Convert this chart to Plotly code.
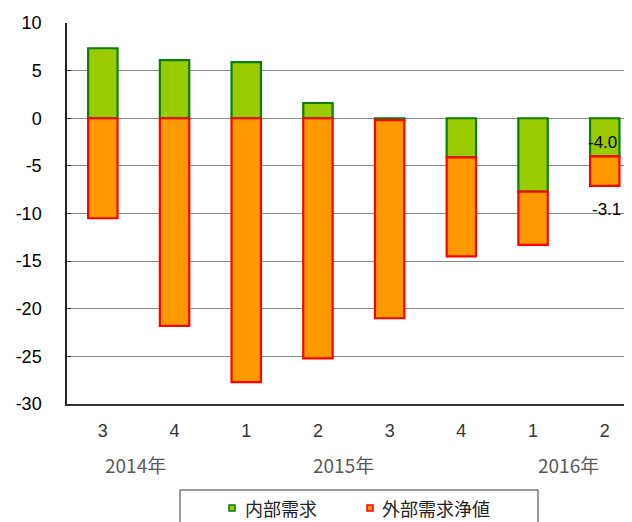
import plotly.graph_objects as go

quarters = ["3", "4", "1", "2", "3", "4", "1", "2"]
years = ["2014年", "2015年", "2016年"]
year_pos = [0.45, 3.35, 6.5]
domestic = [7.35, 6.1, 5.9, 1.6, -0.2, -4.1, -7.7, -4.0]
external = [-10.5, -21.8, -27.7, -25.2, -20.8, -10.4, -5.6, -3.1]
y_ticks = [10, 5, 0, -5, -10, -15, -20, -25, -30]
y_tick_labels = [str(v) for v in y_ticks]
series_names = ["内部需求", "外部需求浄値"]

x = list(range(len(quarters)))

GREEN_FILL, GREEN_LINE = "#99cc00", "#0a7d0a"
ORANGE_FILL, ORANGE_LINE = "#ff9900", "#ff0000"
NUM_FONT = "Liberation Sans, Arial, sans-serif"
CJK_FONT = "Noto Sans CJK JP, sans-serif"

# page has ~8px body margin; work in screen pixels and convert
OFF = 8
L, T, PW, PH = 67, 23, 565, 381   # plot area on screen


def px(xs):
    return (xs - L) / PW


def py(ys):
    return (T + PH - ys) / PH


fig = go.Figure()
fig.add_trace(go.Bar(x=x, y=domestic, name=series_names[0], width=0.41,
                     marker=dict(color=GREEN_FILL, line=dict(color=GREEN_LINE, width=2.2))))
fig.add_trace(go.Bar(x=x, y=external, name=series_names[1], width=0.41,
                     marker=dict(color=ORANGE_FILL, line=dict(color=ORANGE_LINE, width=2.2))))

# data labels for last quarter
last = len(x) - 1
fig.add_annotation(x=last, y=domestic[last], text=f"{domestic[last]:.1f}", showarrow=False,
                   yanchor="bottom", yshift=2, xshift=-2, font=dict(family=NUM_FONT, size=17, color="black"))
fig.add_annotation(x=last, y=domestic[last] + external[last], text=f"{external[last]:.1f}",
                   showarrow=False, yanchor="top", yshift=-12, xshift=2,
                   font=dict(family=NUM_FONT, size=17, color="black"))

# year labels
for yl, yp in zip(years, year_pos):
    fig.add_annotation(x=yp, xref="x", y=py(464), yref="paper", text=yl, showarrow=False,
                       yanchor="middle", font=dict(family=CJK_FONT, size=19, color="#595959"))

# manual legend
fig.add_shape(type="rect", xref="paper", yref="paper", x0=px(180), x1=px(538), y0=py(490), y1=py(540),
              line=dict(color="#333333", width=1), fillcolor="white")
legend_items = [(series_names[0], GREEN_FILL, GREEN_LINE, 229, 243),
                (series_names[1], ORANGE_FILL, ORANGE_LINE, 367, 380)]
for name, fill, line, mx, tx in legend_items:
    fig.add_shape(type="rect", xref="paper", yref="paper", x0=px(mx), x1=px(mx + 6),
                  y0=py(505), y1=py(511), line=dict(color=line, width=1.5), fillcolor=fill)
    fig.add_annotation(x=px(tx), y=py(508), xref="paper", yref="paper", text=name, showarrow=False,
                       xanchor="left", yanchor="middle", font=dict(family=CJK_FONT, size=18, color="#222222"))

fig.update_layout(
    width=632 - OFF, height=522 - OFF,
    margin=dict(l=L - OFF, r=0, t=T - OFF, b=522 - OFF - (T - OFF) - PH, autoexpand=False),
    barmode="relative",
    plot_bgcolor="white", paper_bgcolor="white",
    showlegend=False,
    xaxis=dict(range=[-0.5, 7.38], tickvals=x, ticktext=quarters, ticks="",
               showline=True, linecolor="#333333", linewidth=1.5, showgrid=False, zeroline=False,
               tickfont=dict(family=NUM_FONT, size=18, color="#333333"), ticklabelstandoff=10,
               automargin=False),
    yaxis=dict(range=[-30, 10], tickvals=y_ticks, ticktext=y_tick_labels,
               ticks="inside", ticklen=4, tickcolor="#222222", tickwidth=1,
               showline=True, linecolor="#222222", linewidth=1.5,
               showgrid=True, gridcolor="#8a8a8a", gridwidth=1, zeroline=True, zerolinecolor="#8a8a8a",
               zerolinewidth=1, tickfont=dict(family=NUM_FONT, size=18, color="black"),
               ticklabelstandoff=20, automargin=False),
)
fig.write_html("out.html")
